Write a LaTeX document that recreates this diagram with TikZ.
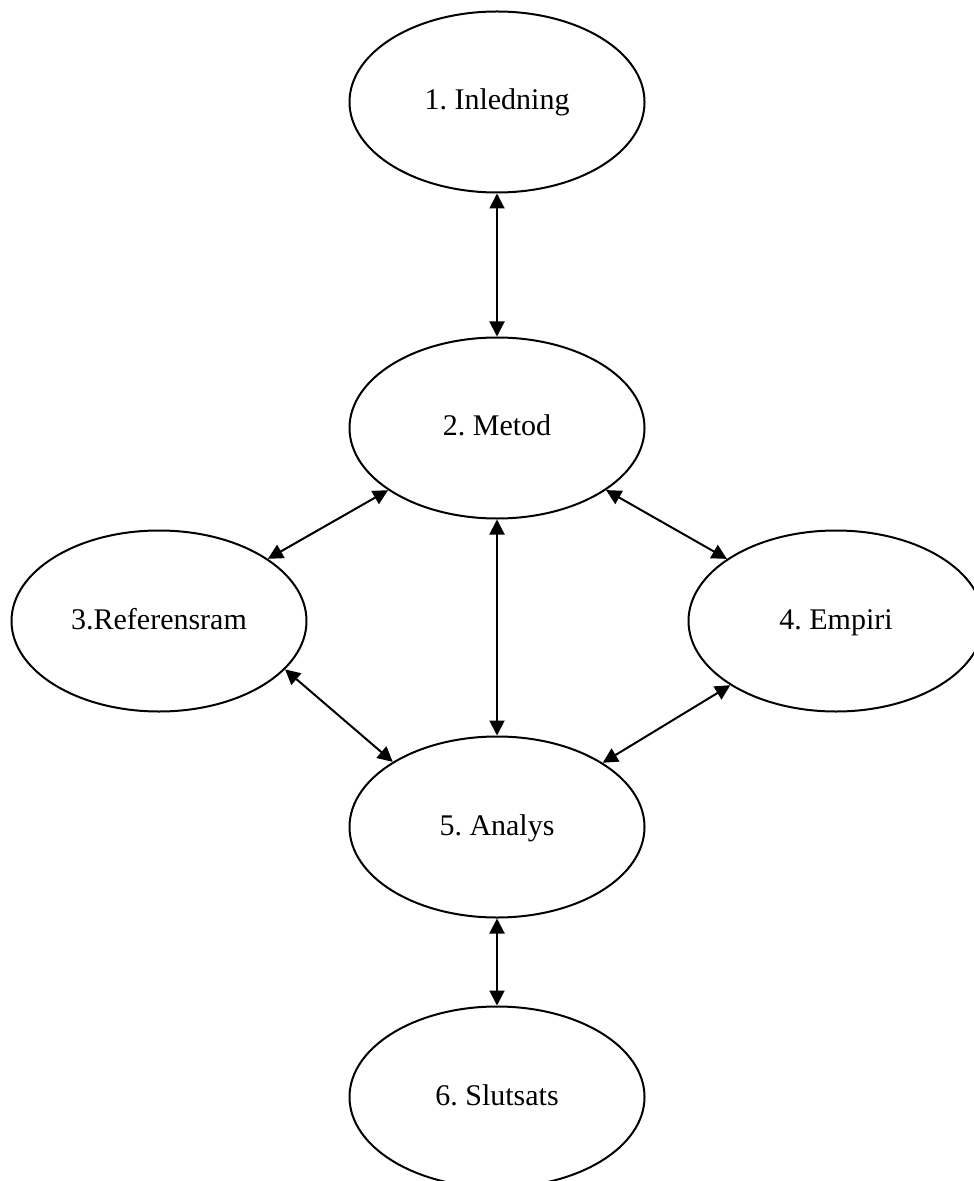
\documentclass[tikz,border=0pt]{standalone}
\usepackage{fontspec}
\setmainfont{Liberation Serif}
\usetikzlibrary{shapes.geometric,arrows.meta}
\frenchspacing

\begin{document}
\begin{tikzpicture}[x=0.5pt,y=-0.5pt,
    chapter/.style={draw, ellipse, line width=1pt, minimum width=147.5pt,
        minimum height=90.5pt, inner sep=0pt, text height=9pt, text depth=1pt,
        font=\fontsize{15}{18}\selectfont},
    link/.style={{Triangle[length=7.5pt,width=7.5pt]}-{Triangle[length=7.5pt,width=7.5pt]},
        line width=1pt}]
    \useasboundingbox (0,0) rectangle (973,1181);

    % Chapters
    \node[chapter] (inledning) at (497,102) {1. Inledning};
    \node[chapter] (metod) at (497,428) {2. Metod};
    \node[chapter] (referensram) at (159,621) {3.Referensram};
    \node[chapter] (empiri) at (836,621) {4. Empiri};
    \node[chapter] (analys) at (497,827) {5. Analys};
    \node[chapter] (slutsats) at (497,1097) {6. Slutsats};

    % Links between chapters
    \draw[link] (inledning) -- (metod);
    \draw[link] (metod) -- (referensram);
    \draw[link] (metod) -- (empiri);
    \draw[link] (metod) -- (analys);
    \draw[link] (referensram.-21) -- (analys.148);
    \draw[link] (empiri) -- (analys);
    \draw[link] (analys) -- (slutsats);

\end{tikzpicture}
\end{document}
